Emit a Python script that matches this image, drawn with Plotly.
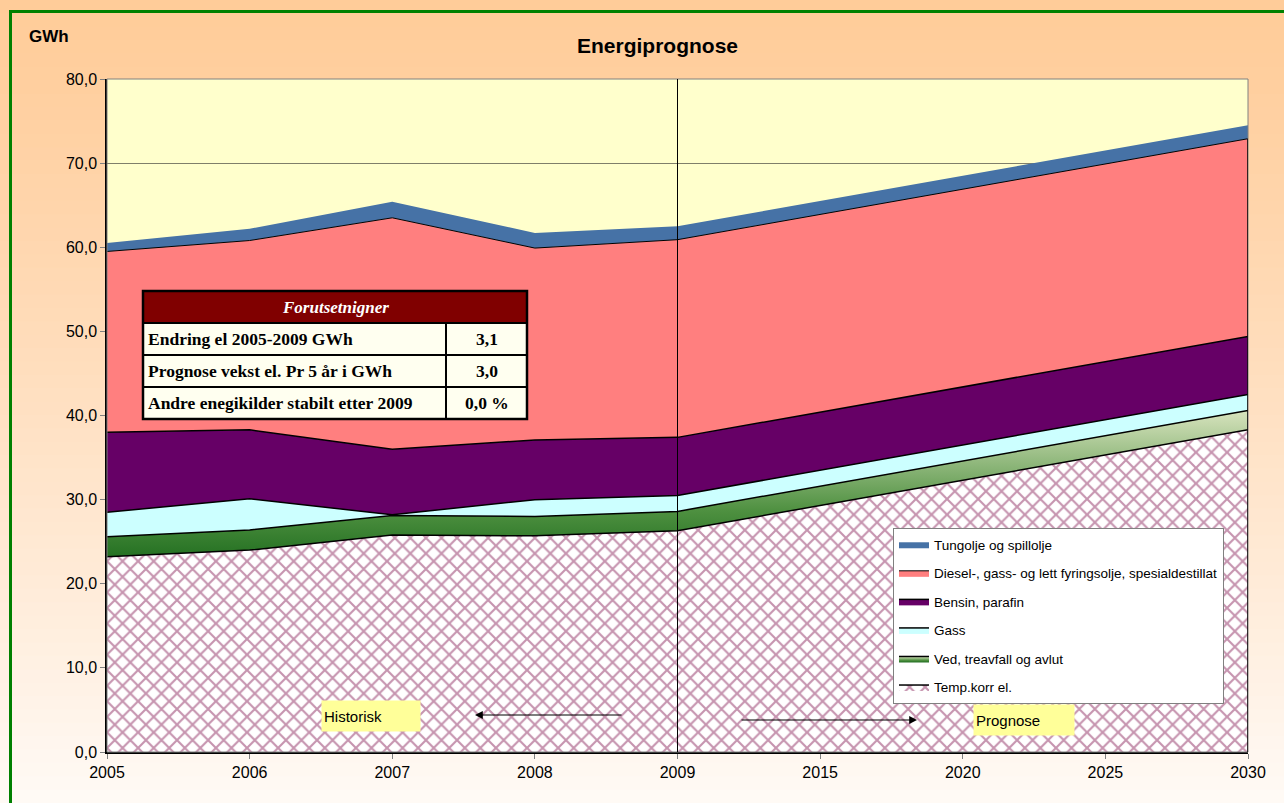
import plotly.graph_objects as go

# ---------------- data ----------------
years = ["2005", "2006", "2007", "2008", "2009", "2015", "2020", "2025", "2030"]
temp_korr_el = [23.2, 24.0, 25.8, 25.7, 26.3, 29.3, 32.3, 35.3, 38.3]
ved = [2.4, 2.4, 2.3, 2.3, 2.3, 2.3, 2.3, 2.3, 2.3]
gass = [2.9, 3.7, 0.1, 2.0, 1.9, 1.9, 1.9, 1.9, 1.9]
bensin = [9.5, 8.2, 7.8, 7.1, 6.9, 6.9, 6.9, 6.9, 6.9]
diesel = [21.5, 22.5, 27.5, 22.8, 23.5, 23.5, 23.5, 23.5, 23.5]
tungolje = [1.0, 1.4, 1.9, 1.8, 1.6, 1.6, 1.6, 1.6, 1.6]

series_names = ["Temp.korr el.", "Ved, treavfall og avlut", "Gass", "Bensin, parafin",
                "Diesel-, gass- og lett fyringsolje, spesialdestillat", "Tungolje og spillolje"]

table_title = "Forutsetnigner"
table_labels = ["Endring el 2005-2009 GWh", "Prognose vekst el. Pr 5 år i GWh",
                "Andre enegikilder stabilt etter 2009"]
table_values = ["3,1", "3,0", "0,0 %"]

# ---------------- layout helpers ----------------
W, H = 1284, 803
L, R, T, B = 107, 1248, 79, 752


def px(xp):
    return (xp - L) / (R - L)


def py(yp):
    return (B - yp) / (B - T)


fig = go.Figure()

line_black = dict(color="black", width=1.5)

fig.add_trace(go.Scatter(
    x=years, y=temp_korr_el, name=series_names[0], stackgroup="one", mode="lines",
    line=line_black, fillcolor="white",
    fillpattern=dict(shape="x", fgcolor="#8E2A60", bgcolor="white", size=11, solidity=0.35),
    legendgroup="g0", legendrank=6))
fig.add_trace(go.Scatter(
    x=years, y=ved, name=series_names[1], stackgroup="one", mode="lines",
    line=line_black, fillcolor="#5A9A46",
    fillgradient=dict(type="vertical", start=22, stop=41,
                      colorscale=[[0, "#1C6A1C"], [0.35, "#4E9040"], [1, "#DCE6C2"]]),
    legendgroup="g1", legendrank=5))
fig.add_trace(go.Scatter(
    x=years, y=gass, name=series_names[2], stackgroup="one", mode="lines",
    line=line_black, fillcolor="#CCFFFF", legendgroup="g2", legendrank=4))
fig.add_trace(go.Scatter(
    x=years, y=bensin, name=series_names[3], stackgroup="one", mode="lines",
    line=line_black, fillcolor="#660066", legendgroup="g3", legendrank=3))
fig.add_trace(go.Scatter(
    x=years, y=diesel, name=series_names[4], stackgroup="one", mode="lines",
    line=dict(color="black", width=1), fillcolor="#FF7F7F", legendgroup="g4", legendrank=2))
fig.add_trace(go.Scatter(
    x=years, y=tungolje, name=series_names[5], stackgroup="one", mode="lines",
    line=dict(color="#4672A6", width=0), fillcolor="#4672A6", legendgroup="g5", legendrank=1))

shapes = []
# background gradient
N = 60
top_c = (255, 204, 153)
bot_c = (255, 250, 246)
for i in range(N):
    y0 = i * H / N
    y1 = (i + 1) * H / N + 1
    t = ((i + 0.5) / N) ** 1.2
    c = tuple(int(round(top_c[k] + (bot_c[k] - top_c[k]) * t)) for k in range(3))
    shapes.append(dict(type="rect", xref="paper", yref="paper", layer="below",
                       x0=px(-5), x1=px(W + 5), y0=py(y0), y1=py(y1),
                       fillcolor="rgb(%d,%d,%d)" % c, line=dict(width=0)))
# plot area
shapes.append(dict(type="rect", xref="paper", yref="paper", layer="below",
                   x0=0, x1=1, y0=0, y1=1, fillcolor="#FFFFCC", line=dict(width=0)))
# outer green frame
shapes.append(dict(type="rect", xref="paper", yref="paper", layer="above",
                   x0=px(10.5), x1=px(W + 20), y0=py(11.5), y1=py(H + 20),
                   line=dict(color="#008000", width=3)))
# plot border (grey)
shapes.append(dict(type="rect", xref="paper", yref="paper", layer="above",
                   x0=0, x1=1, y0=0, y1=1, line=dict(color="#808080", width=1)))
# right edge of the stacked areas
total_last = (temp_korr_el[-1] + ved[-1] + gass[-1] + bensin[-1] + diesel[-1])
shapes.append(dict(type="line", xref="x", yref="y", layer="above",
                   x0=len(years) - 1, x1=len(years) - 1, y0=0, y1=total_last,
                   line=dict(color="black", width=1.5)))
# 2009 divider
shapes.append(dict(type="line", xref="x", yref="y", layer="above",
                   x0=years.index("2009"), x1=years.index("2009"), y0=0, y1=80,
                   line=dict(color="black", width=1)))

# table
tx0, tx1, tcol = 143, 527, 446
ty = [291, 323, 355, 387, 419]
shapes.append(dict(type="rect", xref="paper", yref="paper", layer="above",
                   x0=px(tx0), x1=px(tx1), y0=py(ty[0]), y1=py(ty[1]),
                   fillcolor="#800000", line=dict(width=0)))
shapes.append(dict(type="rect", xref="paper", yref="paper", layer="above",
                   x0=px(tx0), x1=px(tx1), y0=py(ty[1]), y1=py(ty[4]),
                   fillcolor="#FFFFF0", line=dict(width=0)))
for yy in ty[1:4]:
    shapes.append(dict(type="line", xref="paper", yref="paper", layer="above",
                       x0=px(tx0), x1=px(tx1), y0=py(yy), y1=py(yy),
                       line=dict(color="black", width=2)))
shapes.append(dict(type="line", xref="paper", yref="paper", layer="above",
                   x0=px(tcol), x1=px(tcol), y0=py(ty[1]), y1=py(ty[4]),
                   line=dict(color="black", width=2)))
shapes.append(dict(type="rect", xref="paper", yref="paper", layer="above",
                   x0=px(tx0), x1=px(tx1), y0=py(ty[0]), y1=py(ty[4]),
                   line=dict(color="black", width=2.5)))

annotations = []
annotations.append(dict(text="<b>Energiprognose</b>", xref="paper", yref="paper",
                        x=px(657), y=py(46), showarrow=False, xanchor="center", yanchor="middle",
                        font=dict(family="Liberation Sans, Arial", size=21, color="black")))
annotations.append(dict(text="<b>GWh</b>", xref="paper", yref="paper",
                        x=px(27), y=py(36), showarrow=False, xanchor="left", yanchor="middle",
                        font=dict(family="Liberation Sans, Arial", size=17, color="black")))
serif = "Liberation Serif, Times New Roman"
annotations.append(dict(text="<b><i>%s</i></b>" % table_title, xref="paper", yref="paper",
                        x=px((tx0 + tx1) / 2), y=py((ty[0] + ty[1]) / 2), showarrow=False,
                        xanchor="center", yanchor="middle",
                        font=dict(family=serif, size=17, color="white")))
for i, (lab, val) in enumerate(zip(table_labels, table_values)):
    yc = (ty[i + 1] + ty[i + 2]) / 2
    annotations.append(dict(text="<b>%s</b>" % lab, xref="paper", yref="paper",
                            x=px(tx0 + 3), y=py(yc), showarrow=False,
                            xanchor="left", yanchor="middle",
                            font=dict(family=serif, size=17.5, color="black")))
    annotations.append(dict(text="<b>%s</b>" % val, xref="paper", yref="paper",
                            x=px((tcol + tx1) / 2), y=py(yc), showarrow=False,
                            xanchor="center", yanchor="middle",
                            font=dict(family=serif, size=17.5, color="black")))

# Historisk / Prognose boxes and arrows
annotations.append(dict(text="Historisk", xref="paper", yref="paper",
                        x=px(321), y=py(716), showarrow=False, xanchor="left", yanchor="middle",
                        width=94, height=26, align="left", bgcolor="#FFFF99", borderpad=2,
                        font=dict(family="Liberation Sans, Arial", size=15, color="black")))
annotations.append(dict(text="Prognose", xref="paper", yref="paper",
                        x=px(973), y=py(720), showarrow=False, xanchor="left", yanchor="middle",
                        width=96, height=26, align="left", bgcolor="#FFFF99", borderpad=2,
                        font=dict(family="Liberation Sans, Arial", size=15, color="black")))
annotations.append(dict(text="", xref="paper", yref="paper", x=px(475), y=py(715),
                        showarrow=True, ax=148, ay=0, arrowhead=2, arrowsize=1.3,
                        arrowwidth=1.2, arrowcolor="black"))
annotations.append(dict(text="", xref="paper", yref="paper", x=px(917), y=py(720),
                        showarrow=True, ax=-177, ay=0, arrowhead=2, arrowsize=1.3,
                        arrowwidth=1.2, arrowcolor="black"))

fig.update_layout(
    width=W, height=H,
    margin=dict(l=L, r=W - R, t=T, b=H - B),
    paper_bgcolor="#FFF6EE",
    plot_bgcolor="rgba(0,0,0,0)",
    separators=",.",
    showlegend=True,
    legend=dict(x=px(893), y=py(528), xanchor="left", yanchor="top",
                bgcolor="white", bordercolor="#808080", borderwidth=1,
                traceorder="grouped", tracegroupgap=8, itemwidth=30,
                font=dict(family="Liberation Sans, Arial", size=13.5, color="black")),
    xaxis=dict(type="category", range=[0, len(years) - 1], showgrid=False,
               showline=True, linecolor="black", linewidth=1.5,
               ticks="outside", ticklen=5, tickcolor="#808080",
               tickfont=dict(family="Liberation Sans, Arial", size=16, color="black")),
    yaxis=dict(range=[0, 80], dtick=10, tickformat=".1f", showgrid=True,
               gridcolor="#7F7F6A", gridwidth=1, zeroline=False,
               showline=True, linecolor="black", linewidth=1.5,
               ticks="outside", ticklen=5, tickcolor="#808080",
               tickfont=dict(family="Liberation Sans, Arial", size=16, color="black")),
    shapes=shapes,
    annotations=annotations,
)

fig.write_html("out.html", config={"displayModeBar": False},
               post_script="document.body.style.margin='0';document.body.style.overflow='hidden';")
